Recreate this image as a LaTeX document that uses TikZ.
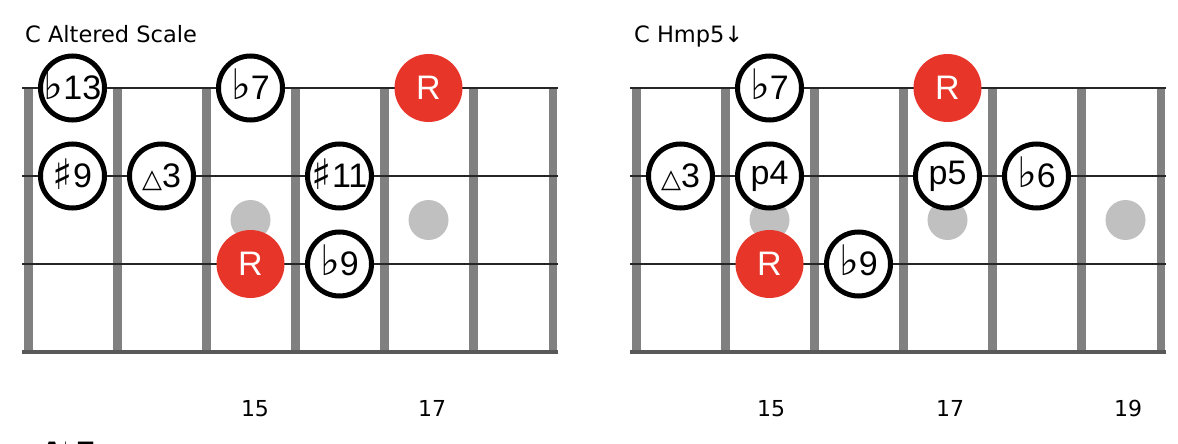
\documentclass[tikz,border=0pt]{standalone}
\usepackage{fontspec}
\setmainfont{Liberation Sans}
\newfontfamily\symfont{DejaVu Sans}
\newfontfamily\headfont{DejaVu Sans}
\definecolor{rootred}{HTML}{E8352A}
\definecolor{fretgray}{HTML}{808080}
\definecolor{inlaygray}{HTML}{C0C0C0}
\newcommand{\flatsym}{\smash{\symfont\bfseries\fontsize{42}{32}\selectfont ♭}}
\newcommand{\sharpsym}{\smash{\symfont\bfseries\fontsize{42}{32}\selectfont\raisebox{-2pt}{♯}}}
\newcommand{\trisym}{\smash{\symfont\bfseries\fontsize{26}{26}\selectfont △}}

\begin{document}
\begin{tikzpicture}[x=1pt,y=-1pt,
    note/.style={circle,draw=black,line width=5pt,fill=white,minimum size=64pt,
      inner sep=0pt,font=\fontsize{34}{34}\selectfont},
    rootnote/.style={circle,fill=rootred,text=white,minimum size=68pt,
      inner sep=0pt,font=\fontsize{34}{34}\selectfont},
    inlay/.style={circle,fill=inlaygray,minimum size=40pt,inner sep=0pt},
    boardtitle/.style={anchor=base west,inner sep=0pt,font=\headfont\fontsize{22.5}{22.5}\selectfont},
    fretno/.style={anchor=base,inner sep=0pt,font=\headfont\fontsize{22}{22}\selectfont}]
    \useasboundingbox (0,0) rectangle (1178,444);
    \clip (0,0) rectangle (1178,444); % cuts the next chart off
    \fill[white] (0,0) rectangle (1178,444);
     \foreach \dx in {0,608}{% the two fretboards
      \foreach \f in {0,...,5}{% fret bars
        \fill[fretgray] (\dx+23.5+89*\f,88) rectangle ++(9,264);
      }
      \fill[fretgray] (\dx+549,88) rectangle ++(8,264);
      \foreach \y in {88,176,264}{% strings
        \draw[line width=2pt,black!85] (\dx+22,\y) -- (\dx+558,\y);
      }
      \draw[line width=4pt,black!65] (\dx+22,352) -- (\dx+558,352);
     }
    % inlay dots
    \node[inlay] (altDotA) at (250.5,220) {};
    \node[inlay] (altDotB) at (428.5,220) {};
    \node[inlay] (hmpDotA) at (769.5,220) {};
    \node[inlay] (hmpDotB) at (947.5,220) {};
    \node[inlay] (hmpDotC) at (1125.5,220) {};
    % C Altered Scale
    \node[boardtitle] (altTitle) at (25,43) {C Altered Scale};
    \node[note] (altB13) at (72.5,88) {\flatsym13};
    \node[note] (altB7) at (250.5,88) {\flatsym7};
    \node[rootnote] (altRtop) at (428.5,88) {R};
    \node[note] (altS9) at (72.5,176) {\sharpsym9};
    \node[note] (altM3) at (161.5,176) {\trisym3};
    \node[note] (altS11) at (339.5,176) {\sharpsym11};
    \node[rootnote] (altRlow) at (250.5,264) {R};
    \node[note] (altB9) at (339.5,264) {\flatsym9};
    \node[fretno] (altFifteen) at (255,416) {15};
    \node[fretno] (altSeventeen) at (432,416) {17};
    % C Hmp5 down
    \node[boardtitle] (hmpTitle) at (634,43) {C Hmp5↓};
    \node[note] (hmpB7) at (769.5,88) {\flatsym7};
    \node[rootnote] (hmpRtop) at (947.5,88) {R};
    \node[note] (hmpM3) at (680.5,176) {\trisym3};
    \node[note] (hmpP4) at (769.5,176) {p4};
    \node[note] (hmpP5) at (947.5,176) {p5};
    \node[note] (hmpB6) at (1036.5,176) {\flatsym6};
    \node[rootnote] (hmpRlow) at (769.5,264) {R};
    \node[note] (hmpB9) at (858.5,264) {\flatsym9};
    \node[fretno] (hmpFifteen) at (771,416) {15};
    \node[fretno] (hmpSeventeen) at (950,416) {17};
    \node[fretno] (hmpNineteen) at (1128,416) {19};
    % next chart, cut off at the bottom
    \node[anchor=base west,inner sep=0pt,font=\headfont\bfseries\fontsize{28}{28}\selectfont]
      (nextTitle) at (41,462) {A♭7};
\end{tikzpicture}
\end{document}
